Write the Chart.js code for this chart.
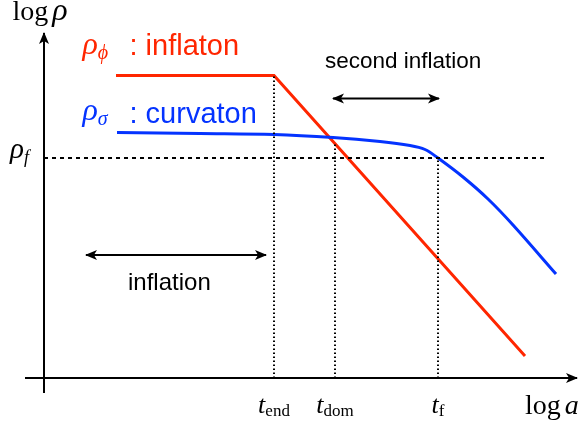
<!DOCTYPE html>
<html>
<head>
<meta charset="utf-8">
<script src="https://cdn.jsdelivr.net/npm/chart.js@4.4.1/dist/chart.umd.min.js"></script>
<style>
  html, body { margin: 0; padding: 0; background: #fff; }
  #wrap { width: 581px; height: 424px; }
</style>
</head>
<body>
<div id="wrap"><canvas id="chart" width="581" height="424"></canvas></div>
<script>
// log a on x, log rho on y, arbitrary units, origin where the axes cross
const inflatonX = [1.44, 4.60, 9.62];
const inflatonY = [6.05, 6.05, 0.44];
const curvatonX = [1.46, 3.12, 4.60, 5.78, 6.72, 7.32, 7.62, 7.88, 8.38, 8.88, 9.38, 10.24];
const curvatonY = [4.91, 4.89, 4.87, 4.81, 4.73, 4.65, 4.57, 4.40, 4.02, 3.58, 3.06, 2.08];

const tNames = ['end', 'dom', 'f'];
const tValues = [4.60, 5.82, 7.88];
const tTops = [6.05, 4.72, 4.40];   // dotted guide stops at the curve

const rhoF = 4.40;
const rhoFEnd = 10.08;

const secondInflationSpan = [5.78, 7.90];
const secondInflationLevel = 5.59;
const inflationSpan = [0.84, 4.44];
const inflationLevel = 2.46;

const xAxisSpan = [-0.38, 10.66];
const yAxisSpan = [-0.30, 6.90];

const RED = '#ff2600';
const BLUE = '#0433ff';
const SERIF = '"Liberation Serif", "DejaVu Serif", serif';
const SANS = '"Liberation Sans", Arial, sans-serif';

const pts = (xs, ys) => xs.map((x, i) => ({ x, y: ys[i] }));

const datasets = [];

// axes
datasets.push({ data: [{ x: xAxisSpan[0], y: 0 }, { x: xAxisSpan[1], y: 0 }], borderColor: '#000', borderWidth: 2, arrow: 'end' });
datasets.push({ data: [{ x: 0, y: yAxisSpan[0] }, { x: 0, y: yAxisSpan[1] }], borderColor: '#000', borderWidth: 2, arrow: 'end' });

// rho_f level
datasets.push({ data: [{ x: 0, y: rhoF }, { x: rhoFEnd, y: rhoF }], borderColor: '#000', borderWidth: 2, borderDash: [4, 4] });

// time guides
tValues.forEach((t, i) => {
    datasets.push({ data: [{ x: t, y: 0 }, { x: t, y: tTops[i] }], borderColor: '#000', borderWidth: 2, borderDash: [1.5, 2.5] });
});

// span arrows
datasets.push({ data: [{ x: secondInflationSpan[0], y: secondInflationLevel }, { x: secondInflationSpan[1], y: secondInflationLevel }], borderColor: '#000', borderWidth: 2, arrow: 'both' });
datasets.push({ data: [{ x: inflationSpan[0], y: inflationLevel }, { x: inflationSpan[1], y: inflationLevel }], borderColor: '#000', borderWidth: 2, arrow: 'both' });

// energy densities
datasets.push({ data: pts(curvatonX, curvatonY), borderColor: BLUE, borderWidth: 3, tension: 0.35 });
datasets.push({ data: pts(inflatonX, inflatonY), borderColor: RED, borderWidth: 3 });

// mixed-font text runs: [text, font, dy, gapBefore]
function drawRuns(ctx, runs, x, y, align, color) {
    let w = 0;
    runs.forEach(r => { ctx.font = r[1]; w += ctx.measureText(r[0]).width + (r[3] || 0); });
    let cx = align === 'center' ? x - w / 2 : x;
    ctx.fillStyle = color;
    ctx.textAlign = 'left';
    ctx.textBaseline = 'alphabetic';
    runs.forEach(r => {
        ctx.font = r[1];
        cx += r[3] || 0;
        ctx.fillText(r[0], cx, y + (r[2] || 0));
        cx += ctx.measureText(r[0]).width;
    });
}

const arrowPlugin = {
    id: 'arrows',
    afterDatasetsDraw(chart) {
        const ctx = chart.ctx;
        chart.data.datasets.forEach((ds, i) => {
            if (!ds.arrow) return;
            const p = chart.getDatasetMeta(i).data;
            const n = p.length;
            const ends = [[p[n - 2], p[n - 1]]];
            if (ds.arrow === 'both') ends.push([p[1], p[0]]);
            ends.forEach(([a, b]) => {
                const ang = Math.atan2(b.y - a.y, b.x - a.x);
                const L = 11, W = 10;
                ctx.save();
                ctx.translate(b.x, b.y);
                ctx.rotate(ang);
                ctx.beginPath();
                ctx.moveTo(1, 0);
                ctx.lineTo(-L, -W / 2);
                ctx.lineTo(-L * 0.72, 0);
                ctx.lineTo(-L, W / 2);
                ctx.closePath();
                ctx.fillStyle = ds.borderColor;
                ctx.fill();
                ctx.restore();
            });
        });
    }
};

const labelPlugin = {
    id: 'labels',
    afterDatasetsDraw(chart) {
        const ctx = chart.ctx;
        const sx = v => chart.scales.x.getPixelForValue(v);
        const sy = v => chart.scales.y.getPixelForValue(v);
        ctx.save();

        drawRuns(ctx, [['log', '28px ' + SERIF], ['ρ', 'italic 32px ' + SERIF, 0, 4]], sx(-0.63), sy(7.16), 'left', '#000');
        drawRuns(ctx, [['ρ', 'italic 29px ' + SERIF], ['f', 'italic 18px ' + SERIF, 5]], sx(-0.68), sy(rhoF), 'left', '#000');

        drawRuns(ctx, [['ρ', 'italic 32px ' + SERIF], ['ϕ', 'italic 20px ' + SERIF, 5]], sx(0.77), sy(6.48), 'left', RED);
        drawRuns(ctx, [[': inflaton', '29px ' + SANS]], sx(1.71), sy(6.46), 'left', RED);
        drawRuns(ctx, [['ρ', 'italic 32px ' + SERIF], ['σ', 'italic 20px ' + SERIF, 5]], sx(0.77), sy(5.16), 'left', BLUE);
        drawRuns(ctx, [[': curvaton', '29px ' + SANS]], sx(1.71), sy(5.1), 'left', BLUE);

        drawRuns(ctx, [['second inflation', '22.5px ' + SANS]], sx(5.62), sy(6.21), 'left', '#000');
        drawRuns(ctx, [['inflation', '24px ' + SANS]], sx(1.68), sy(1.76), 'left', '#000');

        tValues.forEach((t, i) => {
            drawRuns(ctx, [['t', 'italic 26px ' + SERIF], [tNames[i], '17px ' + SERIF, 3]], sx(t), sy(-0.70), 'center', '#000');
        });
        drawRuns(ctx, [['log', '28px ' + SERIF], ['a', 'italic 28px ' + SERIF, 0, 4]], sx(9.62), sy(-0.72), 'left', '#000');

        ctx.restore();
    }
};

new Chart(document.getElementById('chart').getContext('2d'), {
    type: 'scatter',
    data: { datasets: datasets.map(d => Object.assign({ showLine: true, pointRadius: 0, fill: false, borderCapStyle: 'butt' }, d)) },
    options: {
        responsive: false,
        devicePixelRatio: 1,
        animation: false,
        layout: { padding: 0 },
        plugins: { legend: { display: false }, tooltip: { enabled: false } },
        scales: {
            x: { type: 'linear', display: false, min: -0.88, max: 10.74 },
            y: { type: 'linear', display: false, min: -0.92, max: 7.56 }
        }
    },
    plugins: [arrowPlugin, labelPlugin]
});
</script>
</body>
</html>
